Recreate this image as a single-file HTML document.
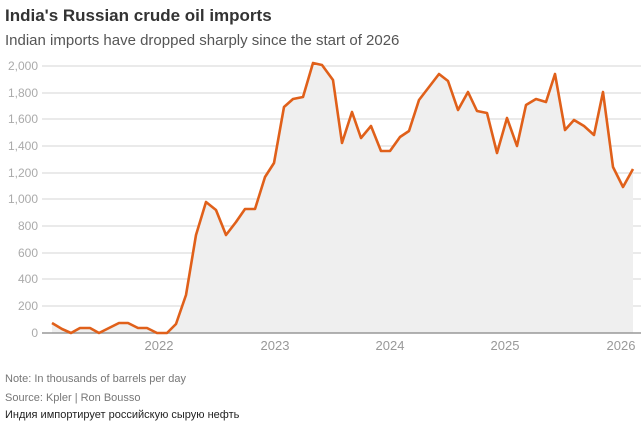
<!DOCTYPE html><html><head><meta charset="utf-8"><style>body{margin:0;background:#fff;font-family:"Liberation Sans","Noto Sans CJK SC",sans-serif}</style></head><body>
<svg width="643" height="423" xmlns="http://www.w3.org/2000/svg" font-family="Liberation Sans, sans-serif">
<text x="5" y="21" font-size="17" font-weight="bold" fill="#333">India's Russian crude oil imports</text>
<text x="5" y="45" font-size="15" fill="#555">Indian imports have dropped sharply since the start of 2026</text>
<g stroke="#e3e3e3" stroke-width="1.5">
<line x1="42" x2="641" y1="66" y2="66"/><line x1="42" x2="641" y1="93" y2="93"/><line x1="42" x2="641" y1="119" y2="119"/><line x1="42" x2="641" y1="146" y2="146"/><line x1="42" x2="641" y1="173" y2="173"/><line x1="42" x2="641" y1="199" y2="199"/><line x1="42" x2="641" y1="226" y2="226"/><line x1="42" x2="641" y1="253" y2="253"/><line x1="42" x2="641" y1="279" y2="279"/><line x1="42" x2="641" y1="306" y2="306"/></g>
<g font-size="12" fill="#aaa" text-anchor="end">
<text x="38" y="70">2,000</text><text x="38" y="97">1,800</text><text x="38" y="123">1,600</text><text x="38" y="150">1,400</text><text x="38" y="177">1,200</text><text x="38" y="203">1,000</text><text x="38" y="230">800</text><text x="38" y="257">600</text><text x="38" y="283">400</text><text x="38" y="310">200</text><text x="38" y="337">0</text></g>
<polygon fill="#efefef" points="52,333 52,323 62,329 71,333 80,328 90,328 99,333 109,328 119,323 128,323 138,328 147,328 157,333 167,333 176,324 186,295 196,235 206,202 216,210 226,235 236,222 245,209 255,209 265,177 274,163 284,107 293,99 303,97 313,63 322,65 333,80 342,143 352,112 361,138 371,126 381,151 390,151 400,137 409,131 419,100 429,87 439,74 448,81 458,110 468,92 477,111 487,113 497,153 507,118 517,146 526,105 536,99 546,102 555,74 565,130 574,120 584,126 594,135 603,92 613,167 623,187 633,169 633,333"/>
<line x1="42" x2="641" y1="333" y2="333" stroke="#999" stroke-width="1.5"/>
<polyline fill="none" stroke="#e0601a" stroke-width="2.6" stroke-linejoin="round" points="52,323 62,329 71,333 80,328 90,328 99,333 109,328 119,323 128,323 138,328 147,328 157,333 167,333 176,324 186,295 196,235 206,202 216,210 226,235 236,222 245,209 255,209 265,177 274,163 284,107 293,99 303,97 313,63 322,65 333,80 342,143 352,112 361,138 371,126 381,151 390,151 400,137 409,131 419,100 429,87 439,74 448,81 458,110 468,92 477,111 487,113 497,153 507,118 517,146 526,105 536,99 546,102 555,74 565,130 574,120 584,126 594,135 603,92 613,167 623,187 633,169"/>
<g font-size="13" fill="#999" text-anchor="middle">
<text x="159" y="350">2022</text><text x="275" y="350">2023</text><text x="390" y="350">2024</text><text x="505" y="350">2025</text><text x="621" y="350">2026</text></g>
<text x="5" y="382" font-size="11" fill="#777">Note: In thousands of barrels per day</text>
<text x="5" y="401" font-size="11" fill="#777">Source: Kpler | Ron Bousso</text>
<text x="5" y="418" font-size="11" fill="#222">Индия импортирует российскую сырую нефть</text>
</svg></body></html>
